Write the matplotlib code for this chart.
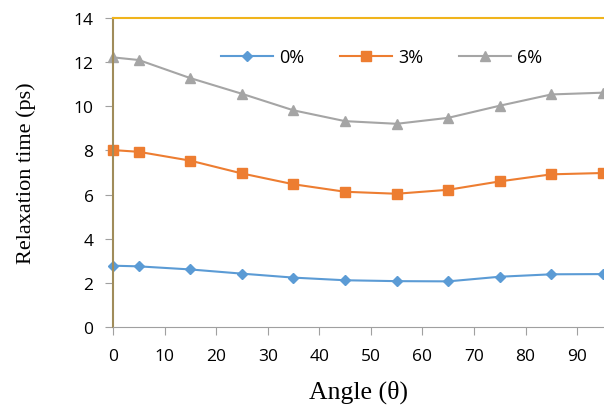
import matplotlib.pyplot as plt

angles = [0, 5, 15, 25, 35, 45, 55, 65, 75, 85, 95]
tau_0 = [2.78, 2.75, 2.61, 2.42, 2.24, 2.12, 2.08, 2.07, 2.28, 2.39, 2.40]
tau_3 = [8.02, 7.94, 7.54, 6.96, 6.47, 6.13, 6.04, 6.22, 6.60, 6.92, 6.98]
tau_6 = [12.22, 12.10, 11.28, 10.57, 9.82, 9.33, 9.21, 9.48, 10.03, 10.54, 10.62]
labels = ['0%', '3%', '6%']

fig = plt.figure(figsize=(6.04, 4.06), dpi=100)
ax = fig.add_axes([0.187, 0.192, 0.813, 0.761])

ax.plot(angles, tau_0, color='#5b9bd5', marker='D', markersize=5, lw=1.5, label=labels[0], clip_on=False)
ax.plot(angles, tau_3, color='#ed7d31', marker='s', markersize=7, lw=1.5, label=labels[1], clip_on=False)
ax.plot(angles, tau_6, color='#a5a5a5', marker='^', markersize=7, lw=1.5, label=labels[2], clip_on=False)

ax.set_xlim(0, 95.2)
ax.set_ylim(0, 14)
ax.set_xticks(range(0, 100, 10))
ax.set_yticks(range(0, 16, 2))

tick_font = 'Open Sans'
for t in ax.get_xticklabels() + ax.get_yticklabels():
    t.set_fontfamily(tick_font)
    t.set_fontsize(12.5)
ax.tick_params(direction='out', length=6, color='#a0a0a0')
ax.tick_params(axis='y', pad=8)
ax.tick_params(axis='x', pad=9)

ax.spines['right'].set_visible(False)
ax.spines['left'].set_color('#a08c5a')
ax.spines['bottom'].set_color('#a0a0a0')
ax.spines['top'].set_color('#f0b41c')
ax.spines['left'].set_linewidth(1.5)
ax.spines['top'].set_linewidth(1.5)

ax.set_xlabel('Angle (θ)', fontfamily='Liberation Serif', fontsize=18.5, labelpad=11)
ax.set_ylabel('Relaxation time (ps)', fontfamily='Liberation Serif', fontsize=16, labelpad=27)

ax.legend(loc='center', bbox_to_anchor=(0.547, 0.873), ncol=3, frameon=False,
          prop={'family': tick_font, 'size': 13}, handlelength=2.9, handletextpad=0.3,
          columnspacing=2.0)

fig.savefig('out.png', dpi=100)
